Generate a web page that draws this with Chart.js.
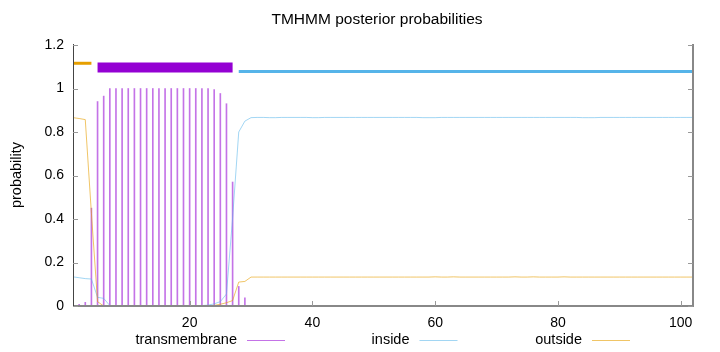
<!DOCTYPE html>
<html>
<head>
<meta charset="utf-8">
<script src="https://cdn.jsdelivr.net/npm/chart.js@4"></script>
<style>
  html, body { margin: 0; padding: 0; background: #fff; }
  #wrap { width: 720px; height: 352px; }
</style>
</head>
<body>
<div id="wrap"><canvas id="c" width="720" height="352"></canvas></div>
<script>
// residue positions and posterior probabilities
const positions = [
  1, 2, 3, 4, 5, 6, 7, 8, 9, 10, 11, 12, 13, 14, 15, 16, 17, 18, 19, 20,
  21, 22, 23, 24, 25, 26, 27, 28, 29, 30, 31, 32, 33, 34, 35, 36, 37, 38, 39, 40,
  41, 42, 43, 44, 45, 46, 47, 48, 49, 50, 51, 52, 53, 54, 55, 56, 57, 58, 59, 60,
  61, 62, 63, 64, 65, 66, 67, 68, 69, 70, 71, 72, 73, 74, 75, 76, 77, 78, 79, 80,
  81, 82, 83, 84, 85, 86, 87, 88, 89, 90, 91, 92, 93, 94, 95, 96, 97, 98, 99, 100,
  101, 102
];
const transmembrane = [
  0, 0.008, 0.017, 0.45, 0.94, 0.965, 1, 1, 1, 1, 1, 1, 1, 1, 1, 1, 1, 1, 1, 1,
  1, 1, 1, 0.995, 0.977, 0.93, 0.57, 0.09, 0.037, 0, 0, 0, 0, 0, 0, 0, 0, 0, 0, 0,
  0, 0, 0, 0, 0, 0, 0, 0, 0, 0, 0, 0, 0, 0, 0, 0, 0, 0, 0, 0,
  0, 0, 0, 0, 0, 0, 0, 0, 0, 0, 0, 0, 0, 0, 0, 0, 0, 0, 0, 0,
  0, 0, 0, 0, 0, 0, 0, 0, 0, 0, 0, 0, 0, 0, 0, 0, 0, 0, 0, 0,
  0, 0
];
const inside = [
  0.134, 0.13, 0.126, 0.124, 0.04, 0.035, 0.002, 0.001, 0.001, 0.001, 0.001, 0.001, 0.001, 0.001, 0.001, 0.001, 0.001, 0.001, 0.001, 0.001,
  0.001, 0.002, 0.004, 0.01, 0.02, 0.055, 0.405, 0.8, 0.85, 0.866, 0.867, 0.867, 0.866, 0.866, 0.867, 0.867, 0.867, 0.867, 0.867, 0.866,
  0.866, 0.867, 0.867, 0.867, 0.867, 0.867, 0.867, 0.867, 0.867, 0.867, 0.867, 0.867, 0.867, 0.867, 0.867, 0.867, 0.867, 0.866, 0.866, 0.866,
  0.867, 0.867, 0.867, 0.867, 0.867, 0.867, 0.867, 0.867, 0.867, 0.867, 0.867, 0.867, 0.867, 0.867, 0.867, 0.867, 0.867, 0.867, 0.867, 0.867,
  0.867, 0.867, 0.867, 0.866, 0.866, 0.866, 0.867, 0.867, 0.867, 0.867, 0.867, 0.867, 0.867, 0.867, 0.867, 0.867, 0.867, 0.867, 0.867, 0.867,
  0.867, 0.867
];
const outside = [
  0.866, 0.862, 0.857, 0.426, 0.02, 0, 0, 0, 0, 0, 0, 0, 0, 0, 0, 0, 0, 0, 0, 0,
  0, 0, 0.001, 0.003, 0.008, 0.015, 0.025, 0.11, 0.113, 0.133, 0.133, 0.133, 0.133, 0.133, 0.133, 0.133, 0.133, 0.133, 0.133, 0.133,
  0.133, 0.133, 0.133, 0.133, 0.133, 0.133, 0.133, 0.133, 0.133, 0.133, 0.133, 0.133, 0.133, 0.133, 0.133, 0.133, 0.133, 0.133, 0.133, 0.134,
  0.133, 0.133, 0.134, 0.133, 0.133, 0.133, 0.133, 0.133, 0.133, 0.133, 0.133, 0.133, 0.134, 0.133, 0.133, 0.134, 0.133, 0.133, 0.133, 0.133,
  0.134, 0.133, 0.133, 0.133, 0.133, 0.133, 0.133, 0.133, 0.133, 0.133, 0.133, 0.133, 0.133, 0.133, 0.133, 0.133, 0.133, 0.133, 0.133, 0.133,
  0.133, 0.133
];

// predicted topology drawn as bars above the curves
const topologyState = ["outside", "transmembrane", "inside"];
const topologyStart = [1, 5, 28];
const topologyEnd = [4, 27, 102];
const topologyLevel = [1.116, 1.097, 1.078];

const xTicks = [20, 40, 60, 80, 100];
const yTicks = [0, 0.2, 0.4, 0.6, 0.8, 1, 1.2];

const solid = { transmembrane: "#9400d3", inside: "#56b4e9", outside: "#e69f00" };
const faint = {
  transmembrane: "rgba(148,0,211,0.55)",
  inside: "rgba(86,180,233,0.55)",
  outside: "rgba(230,159,0,0.6)",
};
const barWidth = { transmembrane: 10, inside: 3, outside: 3 };

const FONT = "'Liberation Sans', Arial, Helvetica, sans-serif";

const pts = (ys) => positions.map((p, i) => ({ x: p, y: ys[i] }));

const datasets = [
  {
    type: "bar", label: "transmembrane", data: pts(transmembrane),
    backgroundColor: faint.transmembrane, borderWidth: 0,
    barThickness: 1, grouped: false, order: 3,
  },
  {
    type: "line", label: "inside", data: pts(inside),
    borderColor: faint.inside, borderWidth: 1, pointRadius: 0, tension: 0, order: 2,
  },
  {
    type: "line", label: "outside", data: pts(outside),
    borderColor: faint.outside, borderWidth: 1, pointRadius: 0, tension: 0, order: 1,
  },
];
topologyState.forEach((s, i) => {
  datasets.push({
    type: "line", label: "topology " + s,
    data: [{ x: topologyStart[i], y: topologyLevel[i] }, { x: topologyEnd[i], y: topologyLevel[i] }],
    borderColor: solid[s], borderWidth: barWidth[s], pointRadius: 0, order: 0,
  });
});

// frame, inward ticks, titles and the gnuplot-style key
const decorations = {
  id: "decorations",
  afterDraw(chart) {
    const { ctx, chartArea: a, scales } = chart;
    ctx.save();
    // border: left, bottom, right
    ctx.strokeStyle = "#888";
    ctx.lineWidth = 2;
    ctx.beginPath();
    ctx.moveTo(a.left, a.bottom);
    ctx.lineTo(a.right, a.bottom);
    ctx.lineTo(a.right, a.top - 1);
    ctx.stroke();
    ctx.strokeStyle = "#444";
    ctx.lineWidth = 1;
    ctx.beginPath();
    ctx.moveTo(a.left + 0.5, a.top - 1);
    ctx.lineTo(a.left + 0.5, a.bottom);
    ctx.stroke();

    ctx.strokeStyle = "#999";
    ctx.lineWidth = 1;
    ctx.beginPath();
    yTicks.forEach((v) => {
      const y = Math.round(scales.y.getPixelForValue(v)) + 0.5;
      ctx.moveTo(a.left, y); ctx.lineTo(a.left + 5, y);
      ctx.moveTo(a.right, y); ctx.lineTo(a.right - 5, y);
    });
    xTicks.forEach((v) => {
      const x = Math.round(scales.x.getPixelForValue(v)) + 0.5;
      ctx.moveTo(x, a.bottom); ctx.lineTo(x, a.bottom - 5);
    });
    ctx.stroke();

    ctx.fillStyle = "#000";
    ctx.font = "15.5px " + FONT;
    ctx.textAlign = "center";
    ctx.textBaseline = "middle";
    ctx.fillText("TMHMM posterior probabilities", 377, 20);

    ctx.font = "14.5px " + FONT;
    ctx.save();
    ctx.translate(17, 175);
    ctx.rotate(-Math.PI / 2);
    ctx.fillText("probability", 0, 0);
    ctx.restore();

    // key: text right-aligned, then a sample line
    const keyLabels = ["transmembrane", "inside", "outside"];
    keyLabels.forEach((k, i) => {
      const right = 237 + i * 172.5;
      ctx.fillStyle = "#000";
      ctx.textAlign = "right";
      ctx.fillText(k, right, 340);
      ctx.strokeStyle = faint[k];
      ctx.lineWidth = 1;
      ctx.beginPath();
      ctx.moveTo(right + 10, 340.5);
      ctx.lineTo(right + 48, 340.5);
      ctx.stroke();
    });
    ctx.restore();
  },
};

new Chart(document.getElementById("c"), {
  type: "line",
  data: { datasets },
  options: {
    responsive: false,
    animation: false,
    devicePixelRatio: 1,
    layout: { padding: { top: 45, right: 27, left: 0, bottom: 0 } },
    plugins: { legend: { display: false }, tooltip: { enabled: false }, title: { display: false } },
    scales: {
      x: {
        type: "linear", min: 1, max: 102, offset: false,
        grid: { display: false, drawTicks: false },
        border: { display: false },
        afterBuildTicks: (s) => { s.ticks = xTicks.map((v) => ({ value: v })); },
        afterFit: (s) => { s.height = 46; },
        ticks: {
          color: "#000", padding: 9, maxRotation: 0, autoSkip: false,
          font: { family: FONT, size: 14 },
          callback: (v) => String(v),
        },
      },
      y: {
        type: "linear", min: 0, max: 1.2,
        grid: { display: false, drawTicks: false },
        border: { display: false },
        afterBuildTicks: (s) => { s.ticks = yTicks.map((v) => ({ value: v })); },
        afterFit: (s) => { s.width = 73; },
        ticks: {
          color: "#000", padding: 9,
          font: { family: FONT, size: 14 },
          callback: (v) => String(+v.toFixed(1)),
        },
      },
    },
  },
  plugins: [decorations],
});
</script>
</body>
</html>
